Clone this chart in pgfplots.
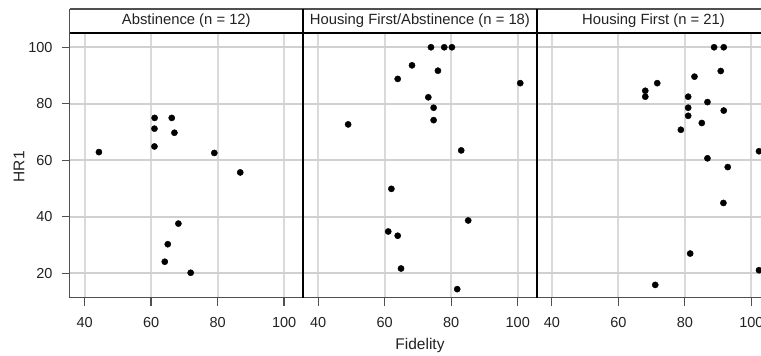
\documentclass[border=0pt]{standalone}
\usepackage{fontspec}
\setmainfont{Liberation Sans}
\usepackage{pgfplots}
\pgfplotsset{compat=1.18}
\definecolor{gridgray}{HTML}{DADADA}
\definecolor{hgridgray}{HTML}{D0D0D0}
\definecolor{axgray}{HTML}{505050}
\definecolor{txtgray}{HTML}{222222}
\pgfplotsset{
  panel/.style={
    scale only axis, width=233.6pt, height=264.7pt,
    xmin=35.45, xmax=105.7, ymin=11.37, ymax=105.05,
    xtick={40,60,80,100}, ytick={20,40,60,80,100},
    xmajorgrids=true, ymajorgrids=false,
    major grid style={draw=gridgray, line width=1.8pt},
    axis line style={draw=none},
    tick pos=left, tick align=outside, major tick length=8pt,
    major tick style={color=axgray, line width=1.3pt},
    /pgf/number format/assume math mode=true,
    ticklabel style={font=\fontsize{14.5}{16}\selectfont, text=txtgray},
    xticklabel style={yshift=-8pt},
    yticklabel style={xshift=-5.5pt},
    clip=false,
  },
  pts/.style={only marks, mark=*, mark size=3.1pt, color=black},
}
\tikzset{hg/.style={draw=hgridgray, line width=2pt}}
\newcommand{\hgrid}{%
  \draw[hg] (axis cs:35.45,20) -- (axis cs:105.7,20);
  \draw[hg] (axis cs:35.45,40) -- (axis cs:105.7,40);
  \draw[hg] (axis cs:35.45,60) -- (axis cs:105.7,60);
  \draw[hg] (axis cs:35.45,80) -- (axis cs:105.7,80);
  \draw[hg] (axis cs:35.45,100) -- (axis cs:105.7,100);
}
\begin{document}
\begin{tikzpicture}[x=1pt,y=1pt]
% Panel 1
\begin{axis}[panel, at={(69.5pt,58.3pt)}, anchor=south west]
\hgrid
\addplot[pts] coordinates {
(44.3,62.9) (61.05,75.0) (61.0,71.2) (61.0,64.9) (66.2,75.0) (67.0,69.75)
(79.0,62.6) (86.8,55.7) (68.2,37.6) (65.0,30.3) (64.1,24.1) (71.9,20.2)
};
\end{axis}
% Panel 2
\begin{axis}[panel, at={(303.1pt,58.3pt)}, anchor=south west, yticklabels={}, major y tick style={draw=none}]
\hgrid
\addplot[pts] coordinates {
(73.9,100) (77.9,100) (80.2,100) (68.2,93.6) (76.0,91.7) (63.9,88.8)
(100.75,87.3) (73.1,82.3) (74.7,78.6) (74.7,74.2) (49.0,72.7) (83.0,63.5)
(62.0,49.9) (85.1,38.7) (61.05,34.8) (63.9,33.3) (64.9,21.7) (81.8,14.4)
};
\end{axis}
% Panel 3
\begin{axis}[panel, at={(536.7pt,58.3pt)}, anchor=south west, yticklabels={}, major y tick style={draw=none}]
\hgrid
\addplot[pts] coordinates {
(88.8,100) (91.7,100) (90.8,91.6) (82.9,89.6) (71.7,87.3) (68.1,84.6)
(68.1,82.5) (81.0,82.5) (86.8,80.6) (81.0,78.6) (91.7,77.6) (81.0,75.75)
(85.1,73.2) (78.8,70.8) (102.3,63.2) (86.8,60.7) (92.9,57.6) (91.6,44.9)
(81.6,27.0) (102.3,21.1) (71.1,15.9)
};
\end{axis}
% frame lines
\draw[axgray, line width=1.6pt] (69.5,347) -- (69.5,58.3) -- (775,58.3);
\draw[axgray, line width=1.2pt] (69.5,347) -- (775,347);
\draw[black, line width=2.2pt] (69.5,323) -- (775,323);
\draw[black, line width=2.4pt] (303.1,58.3) -- (303.1,347);
\draw[black, line width=2.4pt] (536.7,58.3) -- (536.7,347);
% headers
\node[text=txtgray, font=\fontsize{14.8}{16}\selectfont] at (186.3,335) {Abstinence (n = 12)};
\node[text=txtgray, font=\fontsize{14.8}{16}\selectfont] at (419.9,335) {Housing First/Abstinence (n = 18)};
\node[text=txtgray, font=\fontsize{14.8}{16}\selectfont] at (653.5,335) {Housing First (n = 21)};
% axis labels
\node[text=txtgray, font=\fontsize{15.5}{17}\selectfont, anchor=base] at (420,6.5) {Fidelity};
\node[text=txtgray, font=\fontsize{15.5}{17}\selectfont, rotate=90] at (19,189.3) {HR1};
\pgfresetboundingbox
\path[use as bounding box] (0,0) rectangle (761,356);
\end{tikzpicture}
\end{document}
